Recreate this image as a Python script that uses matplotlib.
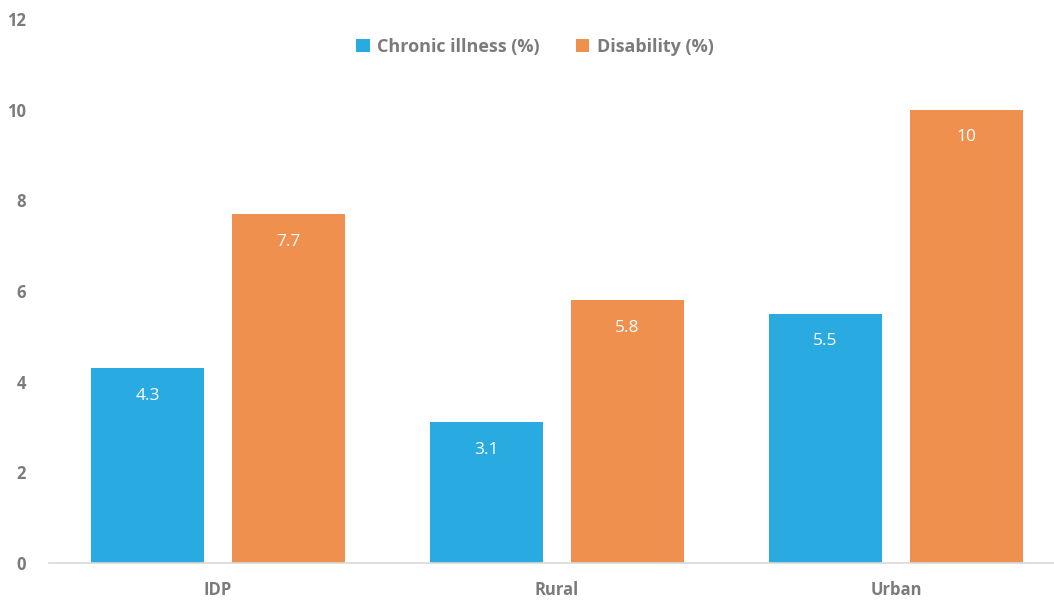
import numpy as np
import matplotlib.pyplot as plt

# Data
categories = ['IDP', 'Rural', 'Urban']
chronic = [4.3, 3.1, 5.5]
disability = [7.7, 5.8, 10]
chronic_labels = ['4.3', '3.1', '5.5']
disability_labels = ['7.7', '5.8', '10']

plt.rcParams['font.family'] = ['Open Sans', 'DejaVu Sans']
grey = '#7b7b7b'
blue = '#29abe2'
orange = '#ef904f'

fig = plt.figure(figsize=(10.54, 6.01), dpi=100)
ax = fig.add_axes([48.5 / 1054, 38 / 601, 1017 / 1054, 544 / 601])

x = np.arange(len(categories))
w = 0.333
off = 0.208
b1 = ax.bar(x - off, chronic, w, color=blue, label='Chronic illness (%)')
b2 = ax.bar(x + off, disability, w, color=orange, label='Disability (%)')

for bars, labels in [(b1, chronic_labels), (b2, disability_labels)]:
    for b, lab in zip(bars, labels):
        ax.annotate(lab, (b.get_x() + b.get_width() / 2, b.get_height()),
                    xytext=(0, -20), textcoords='offset points',
                    ha='center', va='center', color='white', fontsize=12.5)

ax.set_xlim(-0.5, 2.5)
ax.set_ylim(0, 12)
ax.set_yticks(range(0, 13, 2))
ax.set_xticks(x)
ax.set_xticklabels(categories)
for lab in ax.get_xticklabels() + ax.get_yticklabels():
    lab.set_fontweight('bold')
    lab.set_color(grey)
    lab.set_fontsize(12)
ax.tick_params(axis='y', length=0, pad=16)
ax.tick_params(axis='x', length=0, pad=13)

for s in ['top', 'right', 'left']:
    ax.spines[s].set_visible(False)
ax.spines['bottom'].set_color('#d9d9d9')
ax.spines['bottom'].set_linewidth(1.2)

leg = fig.legend(loc='center', bbox_to_anchor=(535 / 1054, 1 - 47 / 601), ncol=2,
                 frameon=False, handlelength=0.75, handleheight=0.75,
                 columnspacing=2.0, handletextpad=0.4,
                 prop={'weight': 'bold', 'size': 13})
for t in leg.get_texts():
    t.set_color(grey)

fig.savefig('out.png', dpi=100)
